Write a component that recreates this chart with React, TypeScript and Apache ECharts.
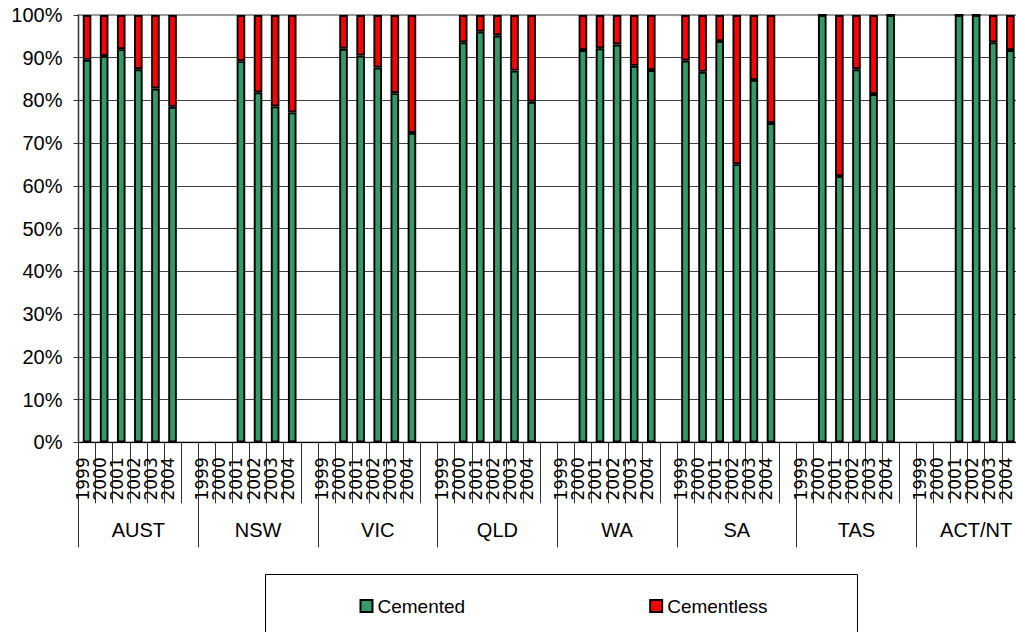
import React, { useEffect, useRef } from "react";
import * as echarts from "echarts";

// State / territory groups, each with one bar per year and an empty spacer slot after it
const groups = ["AUST", "NSW", "VIC", "QLD", "WA", "SA", "TAS", "ACT/NT"];
const years = ["1999", "2000", "2001", "2002", "2003", "2004"];
const yTicks = [0, 10, 20, 30, 40, 50, 60, 70, 80, 90, 100];

// Share (%) of procedures by fixation type, per group, per year (null = no data)
const cementedAUST = [89.5, 90.4, 92.0, 87.3, 82.8, 78.5];
const cementedNSW = [null, null, 89.2, 81.9, 78.6, 77.2];
const cementedVIC = [null, 92.1, 90.5, 87.7, 81.7, 72.4];
const cementedQLD = [null, 93.6, 96.1, 95.2, 87.0, 79.7];
const cementedWA = [null, 91.8, 92.2, 93.1, 88.1, 87.1];
const cementedSA = [89.3, 86.7, 93.9, 65.1, 84.8, 74.7];
const cementedTAS = [null, 100, 62.3, 87.3, 81.5, 100];
const cementedACTNT = [null, null, 100, 100, 93.6, 91.8];

const cementlessAUST = [10.5, 9.6, 8.0, 12.7, 17.2, 21.5];
const cementlessNSW = [null, null, 10.8, 18.1, 21.4, 22.8];
const cementlessVIC = [null, 7.9, 9.5, 12.3, 18.3, 27.6];
const cementlessQLD = [null, 6.4, 3.9, 4.8, 13.0, 20.3];
const cementlessWA = [null, 8.2, 7.8, 6.9, 11.9, 12.9];
const cementlessSA = [10.7, 13.3, 6.1, 34.9, 15.2, 25.3];
const cementlessTAS = [null, 0, 37.7, 12.7, 18.5, 0];
const cementlessACTNT = [null, null, 0, 0, 6.4, 8.2];

const cementedByGroup = [
  cementedAUST, cementedNSW, cementedVIC, cementedQLD,
  cementedWA, cementedSA, cementedTAS, cementedACTNT,
];
const cementlessByGroup = [
  cementlessAUST, cementlessNSW, cementlessVIC, cementlessQLD,
  cementlessWA, cementlessSA, cementlessTAS, cementlessACTNT,
];

// Flatten into one category per slot: "GROUP|YEAR", plus "GROUP|" for the spacer
const categories: string[] = [];
groups.forEach((g) => {
  years.forEach((y) => categories.push(`${g}|${y}`));
  categories.push(`${g}|`);
});
const flatten = (byGroup: (number | null)[][]) => {
  const out: (number | null)[] = [];
  byGroup.forEach((arr) => {
    arr.forEach((v) => out.push(v));
    out.push(null);
  });
  return out;
};
const cementedData = flatten(cementedByGroup);
const cementlessData = flatten(cementlessByGroup);

const FONT = "Liberation Sans, Arial, sans-serif";

export default function App() {
  const ref = useRef<HTMLDivElement>(null);

  useEffect(() => {
    if (!ref.current) return;
    const chart = echarts.init(ref.current, null, { renderer: "svg" });
    const barStyle = (color: string) => ({
      color,
      borderColor: "#000",
      borderWidth: 1.9,
    });
    chart.setOption({
      animation: false,
      backgroundColor: "#fff",
      grid: {
        left: 78.5,
        top: 15,
        width: 957.5,
        height: 427.3,
        outerBoundsMode: "none",
        containLabel: false,
        show: true,
        borderColor: "#9a9a9a",
        borderWidth: 2,
        backgroundColor: "transparent",
      },
      legend: {
        left: 265.5,
        top: 574.5,
        orient: "horizontal",
        itemGap: 184,
        itemWidth: 12,
        itemHeight: 12,
        padding: [22, 90, 40, 94],
        borderColor: "#000",
        borderWidth: 1,
        icon: "rect",
        itemStyle: { borderColor: "#000", borderWidth: 2 },
        textStyle: { fontFamily: FONT, fontSize: 19, color: "#000" },
        data: ["Cemented", "Cementless"],
      },
      xAxis: [
        {
          type: "category",
          data: categories,
          position: "bottom",
          axisLine: { show: true, lineStyle: { color: "#000", width: 1 } },
          axisTick: {
            show: true,
            interval: 0,
            length: 61,
            lineStyle: { color: "#333" },
          },
          axisLabel: {
            interval: 0,
            rotate: 90,
            margin: 15,
            color: "#000",
            // a short empty second line nudges each year toward the left tick
            formatter: (v: string) => {
              const y = v.split("|")[1];
              return y ? `{yr|${y}}\n{pad|}` : "";
            },
            rich: {
              yr: {
                fontFamily: "DejaVu Sans, sans-serif",
                fontSize: 17,
                lineHeight: 18,
                color: "#000",
              },
              pad: { fontSize: 1, lineHeight: 9 },
            },
          },
          splitLine: { show: false },
        },
        {
          type: "category",
          data: groups,
          position: "bottom",
          axisLine: { show: false },
          axisTick: {
            show: true,
            interval: 0,
            length: 105,
            lineStyle: { color: "#333" },
          },
          axisLabel: {
            interval: 0,
            margin: 78,
            fontFamily: FONT,
            fontSize: 20,
            color: "#000",
          },
          splitLine: { show: false },
        },
      ],
      yAxis: {
        type: "value",
        min: 0,
        max: 100,
        interval: 10,
        axisLine: { show: true, lineStyle: { color: "#333" } },
        axisTick: { show: true, length: 5, lineStyle: { color: "#333" } },
        axisLabel: {
          margin: 16,
          fontFamily: FONT,
          fontSize: 20,
          color: "#000",
          formatter: (v: number) => (yTicks.includes(v) ? `${v}%` : ""),
        },
        splitLine: {
          show: true,
          showMaxLine: false,
          lineStyle: { color: "#404040", width: 1 },
        },
      },
      series: [
        {
          name: "Cemented",
          type: "bar",
          stack: "share",
          xAxisIndex: 0,
          barWidth: 8.6,
          itemStyle: barStyle("#339966"),
          data: cementedData,
        },
        {
          name: "Cementless",
          type: "bar",
          stack: "share",
          xAxisIndex: 0,
          barWidth: 8.6,
          itemStyle: barStyle("#ff0000"),
          data: cementlessData,
        },
      ],
    });
    return () => chart.dispose();
  }, []);

  return (
    <div
      style={{
        position: "fixed",
        left: 0,
        top: 0,
        width: 1016,
        height: 632,
        overflow: "hidden",
        background: "#fff",
      }}
    >
      <div ref={ref} style={{ width: 1040, height: 632 }} />
    </div>
  );
}
